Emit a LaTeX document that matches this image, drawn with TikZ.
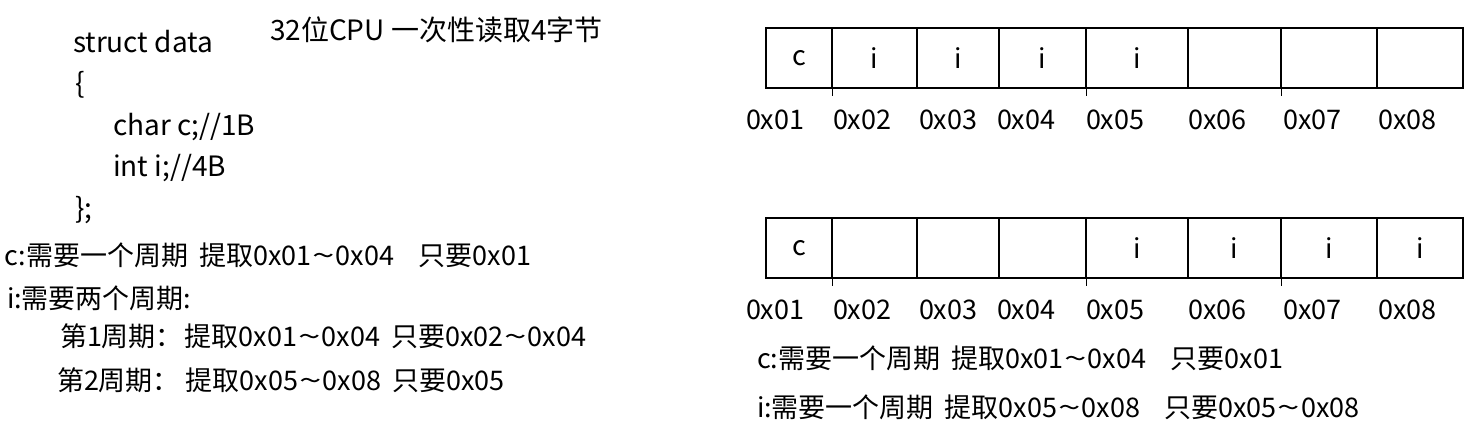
\documentclass[tikz,border=0pt]{standalone}
\usepackage{fontspec}
\setmainfont{Noto Sans CJK SC}
\usetikzlibrary{positioning}
\tikzset{x=1pt, y=-1pt,
every node/.style={inner sep=0pt, outer sep=0pt},
cell/.style={ % one byte of memory
draw, line width=1.6pt, minimum height=60pt,
font=\fontsize{27}{32}\selectfont},
addr/.style={anchor=west, font=\fontsize{27}{32}\selectfont},
txt/.style={anchor=west, font=\fontsize{27}{32}\selectfont},
code/.style={txt, font=\fontsize{28}{32}\selectfont},
tick/.style={line width=1pt}}
\newcommand{\onesp}{\hspace{0.4em}}
\newcommand{\twosp}{\hspace{0.9em}}
\newcommand{\wave}{\hspace{1pt}\scalebox{1.5}[1]{\textasciitilde}\hspace{1pt}}

\begin{document}
\begin{tikzpicture}
\useasboundingbox (0,0) rectangle (1483,429);
% left: struct and cycles
\node[txt, font=\fontsize{28}{32}\selectfont] (title) at (270,30) {32位CPU 一次性读取4字节};
\node[code] (s1) at (73,42) {struct data};
\node[code] (s2) at (75,85) {\{};
\node[code] (s3) at (113,127) {char c;//1B};
\node[code] (s4) at (113,168) {int i;//4B};
\node[code] (s5) at (75,210) {\};};
\node[txt] (l1) at (5,255) {c:需要一个周期\onesp 提取0x01\wave 0x04\twosp 只要0x01};
\node[txt] (l2) at (7,298) {i:需要两个周期:};
\node[txt] (l3) at (60,336) {第1周期：\hspace{2pt}提取0x01\wave 0x04\onesp 只要0x02\wave 0x04};
\node[txt] (l4) at (57,380) {第2周期：\hspace{6pt}提取0x05\wave 0x08\onesp 只要0x05};
% top row: unaligned
\node[cell, minimum width=66pt, anchor=north west] (t1) at (766,28) {c};
\node[cell, minimum width=85pt, right=0pt of t1] (t2) {i};
\node[cell, minimum width=82pt, right=0pt of t2] (t3) {i};
\node[cell, minimum width=87pt, right=0pt of t3] (t4) {i};
\node[cell, minimum width=102pt, right=0pt of t4] (t5) {i};
\node[cell, minimum width=93pt, right=0pt of t5] (t6) {};
\node[cell, minimum width=96pt, right=0pt of t6] (t7) {};
\node[cell, minimum width=86pt, right=0pt of t7] (t8) {};
\draw[tick] (t2.south west) -- ++(0,8);
\draw[tick] (t5.south west) -- ++(0,8);
\draw[tick] (t7.south west) -- ++(0,8);
\node[addr] (a1) at (746,120) {0x01};
\node[addr] (a2) at (833,120) {0x02};
\node[addr] (a3) at (919,120) {0x03};
\node[addr] (a4) at (997,120) {0x04};
\node[addr] (a5) at (1086,120) {0x05};
\node[addr] (a6) at (1188,120) {0x06};
\node[addr] (a7) at (1283,120) {0x07};
\node[addr] (a8) at (1378,120) {0x08};
% bottom row: aligned
\node[cell, minimum width=66pt, anchor=north west] (b1) at (766,218) {c};
\node[cell, minimum width=85pt, right=0pt of b1] (b2) {};
\node[cell, minimum width=82pt, right=0pt of b2] (b3) {};
\node[cell, minimum width=87pt, right=0pt of b3] (b4) {};
\node[cell, minimum width=102pt, right=0pt of b4] (b5) {i};
\node[cell, minimum width=93pt, right=0pt of b5] (b6) {i};
\node[cell, minimum width=96pt, right=0pt of b6] (b7) {i};
\node[cell, minimum width=86pt, right=0pt of b7] (b8) {i};
\draw[tick] (b2.south west) -- ++(0,8);
\draw[tick] (b5.south west) -- ++(0,8);
\draw[tick] (b7.south west) -- ++(0,8);
\node[addr] (c1) at (746,310) {0x01};
\node[addr] (c2) at (833,310) {0x02};
\node[addr] (c3) at (919,310) {0x03};
\node[addr] (c4) at (997,310) {0x04};
\node[addr] (c5) at (1086,310) {0x05};
\node[addr] (c6) at (1188,310) {0x06};
\node[addr] (c7) at (1283,310) {0x07};
\node[addr] (c8) at (1378,310) {0x08};
\node[txt] (r1) at (757,358) {c:需要一个周期\onesp 提取0x01\wave 0x04\twosp 只要0x01};
\node[txt] (r2) at (757,407) {i:需要一个周期\onesp 提取0x05\wave 0x08\twosp 只要0x05\wave 0x08};
\end{tikzpicture}
\end{document}
